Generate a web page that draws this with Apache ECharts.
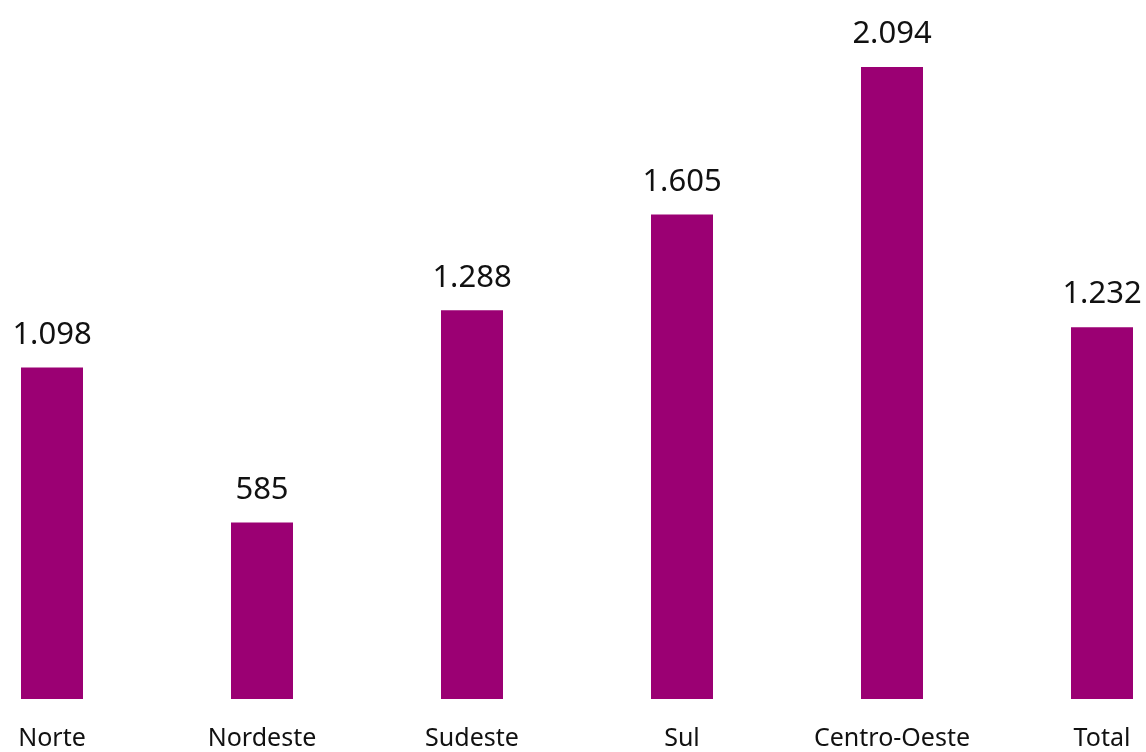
<!DOCTYPE html>
<html>
<head>
<meta charset="utf-8">
<script src="https://cdn.jsdelivr.net/npm/echarts@6/dist/echarts.min.js"></script>
<style>
  html, body { margin: 0; padding: 0; background: #ffffff; }
  #chart { width: 1146px; height: 752px; }
</style>
</head>
<body>
<div id="chart"></div>
<script>
// Regiões e valores
const regioes = ['Norte', 'Nordeste', 'Sudeste', 'Sul', 'Centro-Oeste', 'Total'];
const valores = [1098, 585, 1288, 1605, 2094, 1232];

const fmt = v => v.toLocaleString('pt-BR');

const chart = echarts.init(document.getElementById('chart'));
chart.setOption({
  animation: false,
  backgroundColor: '#ffffff',
  grid: { left: 52, right: 44, top: 0, bottom: 53 },
  xAxis: {
    type: 'category',
    data: regioes,
    boundaryGap: false,
    axisLine: { show: false },
    axisTick: { show: false },
    axisLabel: {
      color: '#111111',
      fontFamily: 'Noto Sans',
      fontSize: 25,
      margin: 27,
      interval: 0
    }
  },
  yAxis: {
    type: 'value',
    min: 0,
    max: 2316,
    show: false,
    splitLine: { show: false }
  },
  series: [{
    type: 'bar',
    data: valores,
    barWidth: 62,
    clip: false,
    itemStyle: { color: '#9b0073' },
    label: {
      show: true,
      position: 'top',
      distance: 17,
      color: '#111111',
      fontFamily: 'Noto Sans',
      fontSize: 31,
      formatter: p => fmt(p.value)
    }
  }]
});
</script>
</body>
</html>
